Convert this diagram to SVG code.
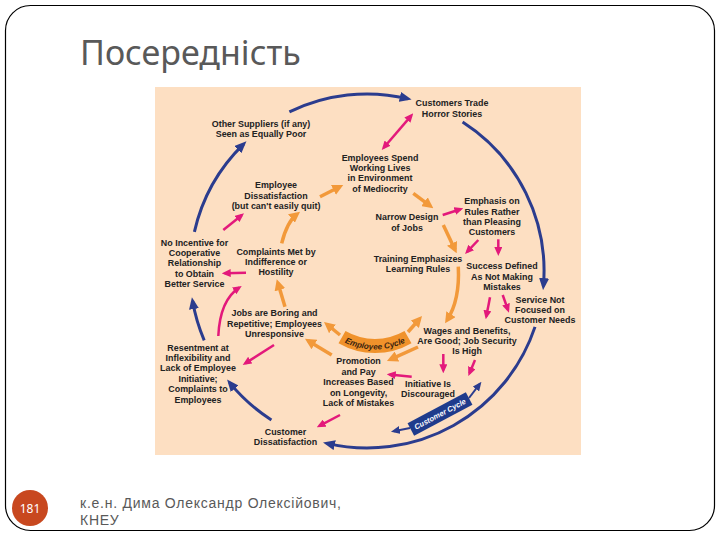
<svg xmlns="http://www.w3.org/2000/svg" width="720" height="540" viewBox="0 0 720 540">
<style>
.lbl text{font-family:"Liberation Sans",Arial,sans-serif;font-size:9.2px;font-weight:bold;fill:#222;text-anchor:middle}
.blue{fill:none;stroke:#2B3C8E;stroke-width:3}
.blues{fill:none;stroke:#2B3C8E;stroke-width:2}
.org{fill:none;stroke:#F2993A;stroke-width:3.5}
.mag{fill:none;stroke:#E3197B;stroke-width:2.5}
</style>
<defs>
<marker id="aB" markerUnits="userSpaceOnUse" markerWidth="12" markerHeight="10" refX="8" refY="5" orient="auto-start-reverse"><path d="M0,0 L12,5 L0,10 z" fill="#2B3C8E"/></marker>
<marker id="aBs" markerUnits="userSpaceOnUse" markerWidth="9" markerHeight="8" refX="6" refY="4" orient="auto-start-reverse"><path d="M0,0 L9,4 L0,8 z" fill="#2B3C8E"/></marker>
<marker id="aO" markerUnits="userSpaceOnUse" markerWidth="11" markerHeight="11" refX="7" refY="5.5" orient="auto-start-reverse"><path d="M0,0 L11,5.5 L0,11 z" fill="#F2993A"/></marker>
<marker id="aM" markerUnits="userSpaceOnUse" markerWidth="9" markerHeight="8" refX="6" refY="4" orient="auto-start-reverse"><path d="M0,0 L9,4 L0,8 z" fill="#E3197B"/></marker>
</defs>
<rect x="0" y="0" width="720" height="540" fill="#ffffff"/>
<rect x="5.5" y="5.5" width="709" height="525" rx="25" fill="#ffffff" stroke="#000" stroke-width="1.2"/>
<text x="80" y="65" font-family="'Noto Sans','Open Sans',sans-serif" font-size="34" fill="#595959">Посередність</text>
<rect x="155" y="87" width="426" height="368" fill="#FDDFC2"/>

<g id="connectors">
<path class="blue" marker-end="url(#aB)" d="M194.4,231.8 A177,177 0 0 1 243.6,144.1"/>
<path class="blue" marker-end="url(#aB)" d="M289.4,111.9 A177,177 0 0 1 407.7,98.7"/>
<path class="blue" marker-end="url(#aB)" d="M462.6,122.1 A177,177 0 0 1 543.4,286.1"/>
<path class="blue" marker-end="url(#aB)" d="M535,326.9 A177,177 0 0 1 326.9,443.4"/>
<path class="blue" marker-end="url(#aB)" d="M271.4,419.9 A177,177 0 0 1 229.6,382.6"/>
<path class="blue" marker-end="url(#aB)" d="M204.2,340.4 A177,177 0 0 1 192.6,301.1"/>
<path class="blues" marker-end="url(#aBs)" d="M469,398 L479.6,384.2"/>
<path class="blues" marker-end="url(#aBs)" d="M410,428 L393.9,431.2"/>

<path class="org" marker-end="url(#aO)" d="M281.7,243.3 Q287,222 296.9,214.2"/>
<path class="org" marker-end="url(#aO)" d="M320,196.7 L339.7,186.8"/>
<path class="org" marker-end="url(#aO)" d="M413.3,193.3 L430.1,205.9"/>
<path class="org" marker-end="url(#aO)" d="M443.3,225 L455,249.7"/>
<path class="org" marker-end="url(#aO)" d="M458.3,266.7 Q460,300 447.2,320"/>
<path class="org" marker-end="url(#aO)" d="M408,332 L419.4,319"/>
<path class="org" marker-end="url(#aO)" d="M418,347 L390.6,359.4"/>
<path class="org" marker-end="url(#aO)" d="M340,335 L327.1,324.5"/>
<path class="org" marker-end="url(#aO)" d="M331.7,355 L308.4,340.9"/>
<path class="org" marker-end="url(#aO)" d="M285,306.7 L277.9,283.1"/>

<path class="mag" marker-start="url(#aM)" marker-end="url(#aM)" d="M383.7,147.7 L411.3,115.6"/>
<path class="mag" marker-end="url(#aM)" d="M442.7,215 L460.5,209.2"/>
<path class="mag" marker-end="url(#aM)" d="M478.3,240 L467.1,251.8"/>
<path class="mag" marker-end="url(#aM)" d="M498.3,239.3 L498.3,253"/>
<path class="mag" marker-end="url(#aM)" d="M490,297.3 L486.3,316.4"/>
<path class="mag" marker-end="url(#aM)" d="M502.7,295 L508,309.9"/>
<path class="mag" marker-end="url(#aM)" d="M443.3,354 L443.3,370.3"/>
<path class="mag" marker-end="url(#aM)" d="M475,360 L469.5,373.2"/>
<path class="mag" marker-end="url(#aM)" d="M411.7,376.7 L389.7,374.6"/>
<path class="mag" marker-end="url(#aM)" d="M340,415 L319.4,425.9"/>
<path class="mag" marker-end="url(#aM)" d="M274,345 L245.2,363.4"/>
<path class="mag" marker-end="url(#aM)" d="M218.3,336 Q220,300 239.2,287.6"/>
<path class="mag" marker-end="url(#aM)" d="M246,272.7 L224.7,273.2"/>
<path class="mag" marker-end="url(#aM)" d="M223.3,230 L241.7,215.2"/>
</g>

<g id="employee-cycle">
<path d="M338.5,343.2 A73,73 0 0 0 411.5,343.2 L404.5,331.1 A59,59 0 0 1 345.5,331.1 Z" fill="#F0922B"/>
<path id="ecp" d="M335.3,337 A69.5,69.5 0 0 0 414.7,337" fill="none"/>
<text font-family="'Liberation Sans',Arial,sans-serif" font-size="8.2" font-weight="bold" font-style="italic" fill="#3a2410"><textPath href="#ecp" startOffset="50%" text-anchor="middle">Employee Cycle</textPath></text>
</g>
<g id="customer-cycle" transform="translate(440,414) rotate(-28)">
<rect x="-33" y="-7" width="66" height="14" fill="#1F3B8C"/>
<text x="0" y="2.7" font-family="'Liberation Sans',Arial,sans-serif" font-size="7.5" font-weight="bold" font-style="italic" fill="#ffffff" text-anchor="middle">Customer Cycle</text>
</g>

<g id="n-horror" class="lbl" transform="translate(452,0) scale(0.97,1)"><text><tspan x="0" y="106.2">Customers Trade</tspan><tspan x="0" y="116.6">Horror Stories</tspan></text></g>
<g id="n-suppliers" class="lbl" transform="translate(261,0) scale(0.97,1)"><text><tspan x="0" y="126.8">Other Suppliers (if any)</tspan><tspan x="0" y="137.2">Seen as Equally Poor</tspan></text></g>
<g id="n-mediocrity" class="lbl" transform="translate(380,0) scale(0.97,1)"><text><tspan x="0" y="160.6">Employees Spend</tspan><tspan x="0" y="171">Working Lives</tspan><tspan x="0" y="181.4">in Environment</tspan><tspan x="0" y="191.8">of Mediocrity</tspan></text></g>
<g id="n-emp-dissat" class="lbl" transform="translate(276,0) scale(0.97,1)"><text><tspan x="0" y="188.4">Employee</tspan><tspan x="0" y="198.8">Dissatisfaction</tspan><tspan x="0" y="209.2">(but can't easily quit)</tspan></text></g>
<g id="n-narrow" class="lbl" transform="translate(407,0) scale(0.97,1)"><text><tspan x="0" y="220.2">Narrow Design</tspan><tspan x="0" y="230.6">of Jobs</tspan></text></g>
<g id="n-emphasis" class="lbl" transform="translate(492,0) scale(0.97,1)"><text><tspan x="0" y="204.2">Emphasis on</tspan><tspan x="0" y="214.6">Rules Rather</tspan><tspan x="0" y="225">than Pleasing</tspan><tspan x="0" y="235.4">Customers</tspan></text></g>
<g id="n-training" class="lbl" transform="translate(418,0) scale(0.97,1)"><text><tspan x="0" y="261.6">Training Emphasizes</tspan><tspan x="0" y="272">Learning Rules</tspan></text></g>
<g id="n-success" class="lbl" transform="translate(502,0) scale(0.97,1)"><text><tspan x="0" y="269.4">Success Defined</tspan><tspan x="0" y="279.8">As Not Making</tspan><tspan x="0" y="290.2">Mistakes</tspan></text></g>
<g id="n-service" class="lbl" transform="translate(540,0) scale(0.97,1)"><text><tspan x="0" y="302.6">Service Not</tspan><tspan x="0" y="313">Focused on</tspan><tspan x="0" y="323.4">Customer Needs</tspan></text></g>
<g id="n-wages" class="lbl" transform="translate(467,0) scale(0.97,1)"><text><tspan x="0" y="333.6">Wages and Benefits,</tspan><tspan x="0" y="344">Are Good; Job Security</tspan><tspan x="0" y="354.4">Is High</tspan></text></g>
<g id="n-initiative" class="lbl" transform="translate(428,0) scale(0.97,1)"><text><tspan x="0" y="386.6">Initiative Is</tspan><tspan x="0" y="397">Discouraged</tspan></text></g>
<g id="n-promotion" class="lbl" transform="translate(358.5,0) scale(0.97,1)"><text><tspan x="0" y="364.4">Promotion</tspan><tspan x="0" y="374.8">and Pay</tspan><tspan x="0" y="385.2">Increases Based</tspan><tspan x="0" y="395.6">on Longevity,</tspan><tspan x="0" y="406">Lack of Mistakes</tspan></text></g>
<g id="n-boring" class="lbl" transform="translate(274.5,0) scale(0.97,1)"><text><tspan x="0" y="316.4">Jobs are Boring and</tspan><tspan x="0" y="326.8">Repetitive; Employees</tspan><tspan x="0" y="337.2">Unresponsive</tspan></text></g>
<g id="n-complaints" class="lbl" transform="translate(276,0) scale(0.97,1)"><text><tspan x="0" y="254.6">Complaints Met by</tspan><tspan x="0" y="265">Indifference or</tspan><tspan x="0" y="275.4">Hostility</tspan></text></g>
<g id="n-incentive" class="lbl" transform="translate(194.5,0) scale(0.97,1)"><text><tspan x="0" y="245.6">No Incentive for</tspan><tspan x="0" y="256">Cooperative</tspan><tspan x="0" y="266.4">Relationship</tspan><tspan x="0" y="276.8">to Obtain</tspan><tspan x="0" y="287.2">Better Service</tspan></text></g>
<g id="n-resentment" class="lbl" transform="translate(198,0) scale(0.97,1)"><text><tspan x="0" y="350.6">Resentment at</tspan><tspan x="0" y="361">Inflexibility and</tspan><tspan x="0" y="371.4">Lack of Employee</tspan><tspan x="0" y="381.8">Initiative;</tspan><tspan x="0" y="392.2">Complaints to</tspan><tspan x="0" y="402.6">Employees</tspan></text></g>
<g id="n-cust-dissat" class="lbl" transform="translate(285.5,0) scale(0.97,1)"><text><tspan x="0" y="434.6">Customer</tspan><tspan x="0" y="445">Dissatisfaction</tspan></text></g>

<g id="footer">
<circle cx="30" cy="508" r="18" fill="#C8481F"/>
<text x="30" y="512.5" font-family="'Noto Sans','Open Sans',sans-serif" font-size="12" fill="#ffffff" text-anchor="middle">181</text>
<text font-family="'Liberation Sans',Arial,sans-serif" font-size="14" letter-spacing="0.75" fill="#595959"><tspan x="80" y="508">к.е.н. Дима Олександр Олексійович,</tspan><tspan x="80" y="525">КНЕУ</tspan></text>
</g>
</svg>
